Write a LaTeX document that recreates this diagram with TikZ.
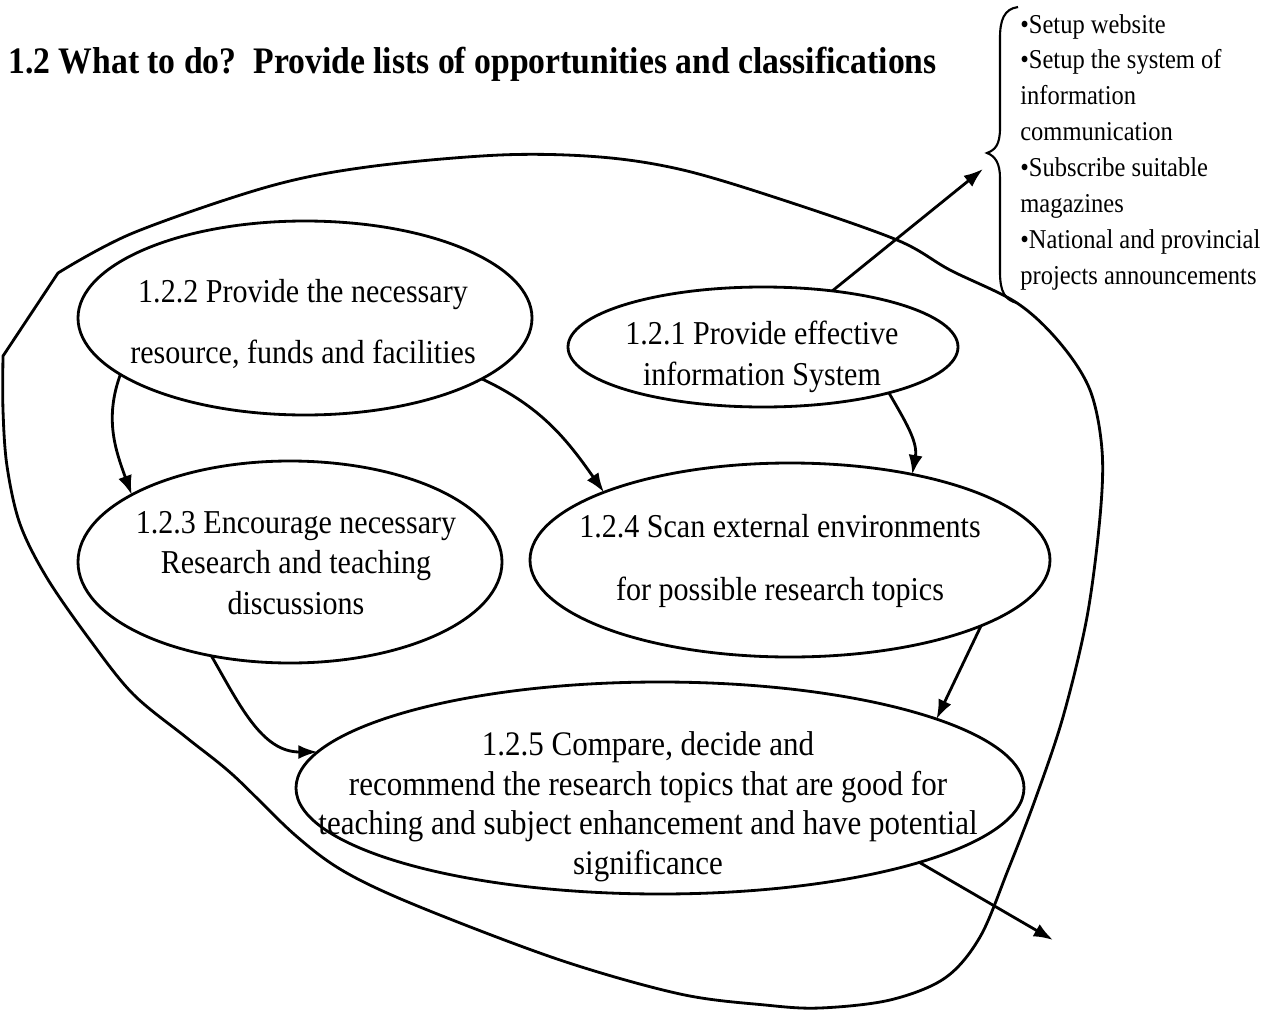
\documentclass[tikz,border=0pt]{standalone}
\usepackage{fontspec}
\setmainfont{Liberation Serif}[FakeStretch=0.9]
\usetikzlibrary{shapes.geometric,arrows.meta}
\newcommand\upx{0.02cm}
\begin{document}
\begin{tikzpicture}[x=0.02cm,y=-0.02cm,
  ell/.style={draw, ellipse, line width=1.6pt, inner sep=0pt, outer sep=0pt},
  etext/.style={align=center, anchor=base, inner sep=0pt, font=\fontsize{19}{#1}\selectfont},
  flow/.style={line width=1.6pt, -{Latex[length=11pt,width=8pt]}},
  outline/.style={line width=1.6pt, line join=round}
]
\useasboundingbox (0,0) rectangle (1282,1014);

% heading
\node[anchor=base west, inner sep=0pt, font=\fontsize{21.3}{25}\selectfont\bfseries] (title) at (8,73)
  {1.2 What to do?\ \ Provide lists of opportunities and classifications};

% enclosing outline
\draw[outline] plot[smooth, tension=0.55] coordinates {
  (58,273) (133,233) (267,187) (367,167) (500,155) (600,157) (683,170) (783,200)
  (897,240) (950,270) (1017,303) (1060,343) (1090,390) (1102,450) (1100,517)
  (1087,617) (1063,717) (1035,800) (1008,870) (980,937) (945,978) (890,1000)
  (820,1008) (765,1005) (680,994) (560,960) (420,907) (345,872) (295,835) (233,775)
  (187,738) (133,694) (90,640) (47,578) (20,524) (7,466) (3,410) (3,356)} -- cycle;

% activities
\node[ell, minimum width=454*\upx, minimum height=194*\upx] (e122) at (305,318) {};
\node[ell, minimum width=390*\upx, minimum height=120*\upx] (e121) at (763,347) {};
\node[ell, minimum width=424*\upx, minimum height=202*\upx] (e123) at (290,562) {};
\node[ell, minimum width=520*\upx, minimum height=194*\upx] (e124) at (790,560) {};
\node[ell, minimum width=728*\upx, minimum height=212*\upx] (e125) at (660,788) {};

% texts, placed by the baseline of their last line
\node[etext=34.6pt] (t122) at (303,363) {1.2.2 Provide the necessary\\resource, funds and facilities};
\node[etext=23.2pt] (t121) at (762,385) {1.2.1 Provide effective\\information System};
\node[etext=23pt] (t123) at (296,614) {1.2.3 Encourage necessary\\Research and teaching\\discussions};
\node[etext=35.7pt] (t124) at (780,600) {1.2.4 Scan external environments\\for possible research topics};
\node[etext=22.4pt, font=\fontsize{19.6}{22.4pt}\selectfont] (t125) at (648,874) {1.2.5 Compare, decide and\\recommend the research topics that are good for\\teaching and subject enhancement and have potential\\significance};

% information system contents
\node[anchor=base west, align=left, inner sep=0pt, font=\fontsize{15.5}{20.4pt}\selectfont] (list) at (1020,284)
  {•Setup website\\•Setup the system of\\information\\communication\\•Subscribe suitable\\magazines\\•National and provincial\\projects announcements};
\draw[line width=1.2pt] (1018,7) .. controls (1004,9) and (1000,20) .. (1000,38) -- (1000,128)
  .. controls (1000,145) and (995,150) .. (987,153) .. controls (995,156) and (1000,163) .. (1000,178)
  -- (1000,272) .. controls (1000,292) and (1005,300) .. (1017,303);

% free ends
\coordinate (out1) at (983,169);
\coordinate (out2) at (1053,940);

% connectors
\draw[flow] (e122.197) to[out=250,in=110] (e123.157);
\draw[flow] (e122.341) to[out=-25,in=125] (e124.160);
\draw[flow] (e121.340) to[out=-60,in=80] (e124.35);
\draw[flow] (e124.341) -- (e125.14);
\draw[flow] (e123.230) to[out=-60,in=180] (e125.174);
\draw[flow] (e121.39) -- (out1);
\draw[flow] (e125.344) -- (out2);
\end{tikzpicture}
\end{document}
